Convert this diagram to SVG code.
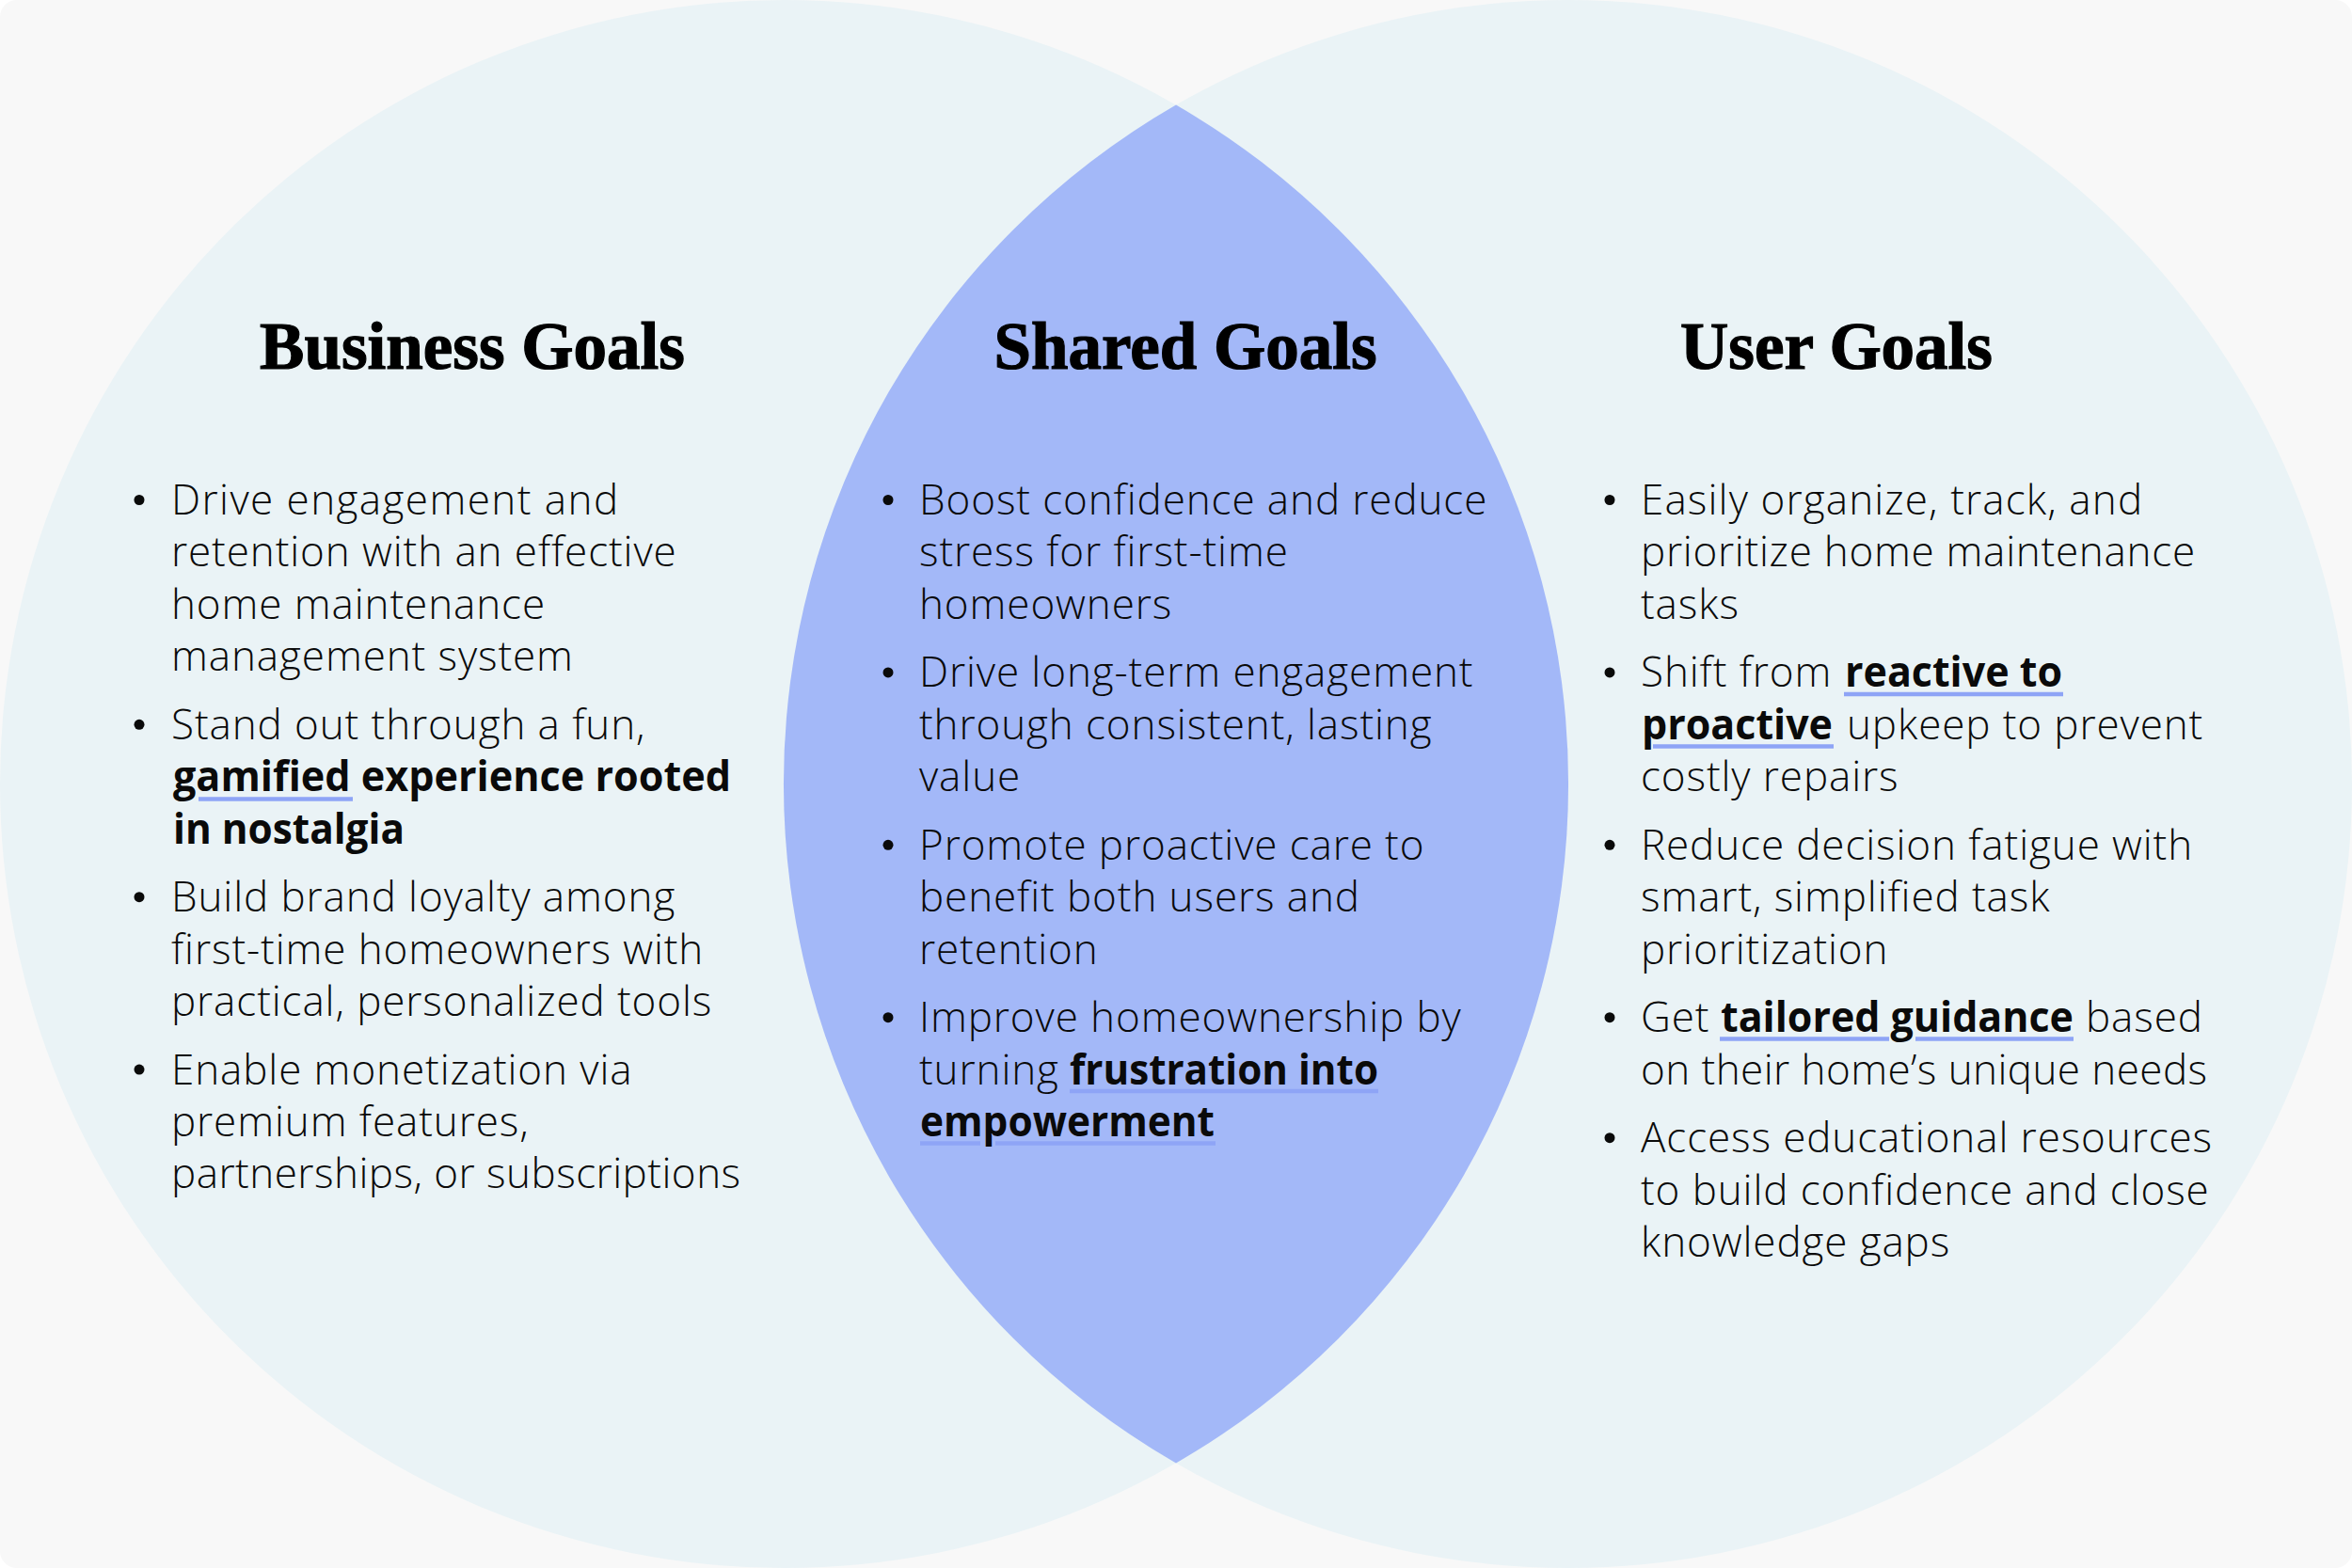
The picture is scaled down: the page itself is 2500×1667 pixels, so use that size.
<svg xmlns="http://www.w3.org/2000/svg" width="2500" height="1667" viewBox="0 0 2500 1667">
<defs>
<style>
.bg{fill:#f8f8f8}
.circ{fill:#eaf3f6}
.lens{fill:#a3b8f8}
.h{font-family:"Liberation Serif",serif;font-weight:700;font-size:71px;fill:#000;stroke:#000;stroke-width:1.2px;text-anchor:middle}
.t{font-family:"Open Sans","Noto Sans",sans-serif;font-weight:300;font-size:44px;letter-spacing:0.9px;fill:#0a0a0a}
.b{font-weight:700;letter-spacing:0}
.ul{stroke:#8ea4f6;stroke-width:4.5;fill:none}
.dot{fill:#0a0a0a}
</style>
</defs>
<rect class="bg" x="0" y="0" width="2500" height="1667" rx="18"/>
<g id="business-circle"><circle class="circ" cx="833.5" cy="833.5" r="833.5"/></g>
<g id="user-circle"><circle class="circ" cx="1666.5" cy="833.5" r="833.5"/></g>
<g id="shared-lens"><path class="lens" d="M1250,111.5 A833.5,833.5 0 0,0 1250,1555.5 A833.5,833.5 0 0,0 1250,111.5 Z"/></g>

<g id="business-goals">
<text class="h" x="502" y="392">Business Goals</text>
<circle class="dot" cx="148" cy="531.5" r="5.5"/>
<text class="t" x="182" y="547" textLength="476">Drive engagement and</text>
<text class="t" x="182" y="602.4">retention with an effective</text>
<text class="t" x="182" y="657.8">home maintenance</text>
<text class="t" x="182" y="713.2">management system</text>
<circle class="dot" cx="148" cy="770.3" r="5.5"/>
<text class="t" x="182" y="785.8">Stand out through a fun,</text>
<text class="t b" x="184" y="841.2" textLength="593" lengthAdjust="spacingAndGlyphs">gamified experience rooted</text>
<text class="t b" x="184" y="896.6" textLength="246" lengthAdjust="spacingAndGlyphs">in nostalgia</text>
<line class="ul" x1="211" y1="849.5" x2="375" y2="849.5"/>
<circle class="dot" cx="148" cy="953.7" r="5.5"/>
<text class="t" x="182" y="969.2">Build brand loyalty among</text>
<text class="t" x="182" y="1024.6">first-time homeowners with</text>
<text class="t" x="182" y="1080">practical, personalized tools</text>
<circle class="dot" cx="148" cy="1137.1" r="5.5"/>
<text class="t" x="182" y="1152.6">Enable monetization via</text>
<text class="t" x="182" y="1208">premium features,</text>
<text class="t" x="182" y="1263.4" textLength="606">partnerships, or subscriptions</text>
</g>

<g id="shared-goals">
<text class="h" x="1260" y="392">Shared Goals</text>
<circle class="dot" cx="944" cy="531.5" r="5.5"/>
<text class="t" x="977" y="547">Boost confidence and reduce</text>
<text class="t" x="977" y="602.4">stress for first-time</text>
<text class="t" x="977" y="657.8">homeowners</text>
<circle class="dot" cx="944" cy="714.9" r="5.5"/>
<text class="t" x="977" y="730.4">Drive long-term engagement</text>
<text class="t" x="977" y="785.8">through consistent, lasting</text>
<text class="t" x="977" y="841.2">value</text>
<circle class="dot" cx="944" cy="898.3" r="5.5"/>
<text class="t" x="977" y="913.8">Promote proactive care to</text>
<text class="t" x="977" y="969.2">benefit both users and</text>
<text class="t" x="977" y="1024.6">retention</text>
<circle class="dot" cx="944" cy="1081.7" r="5.5"/>
<text class="t" x="977" y="1097.2">Improve homeownership by</text>
<text class="t" x="977" y="1152.6">turning<tspan class="b" x="1137" textLength="328" lengthAdjust="spacingAndGlyphs">frustration into</tspan></text>
<text class="t b" x="978" y="1208" textLength="313" lengthAdjust="spacingAndGlyphs">empowerment</text>
<line class="ul" x1="1137" y1="1160" x2="1465" y2="1160"/>
<line class="ul" x1="978" y1="1215.5" x2="1042" y2="1215.5"/>
<line class="ul" x1="1058" y1="1215.5" x2="1292" y2="1215.5"/>
</g>

<g id="user-goals">
<text class="h" x="1952" y="392">User Goals</text>
<circle class="dot" cx="1711" cy="531.5" r="5.5"/>
<text class="t" x="1744" y="547" textLength="534">Easily organize, track, and</text>
<text class="t" x="1744" y="602.4" textLength="590">prioritize home maintenance</text>
<text class="t" x="1744" y="657.8">tasks</text>
<circle class="dot" cx="1711" cy="714.9" r="5.5"/>
<text class="t" x="1744" y="730.4">Shift from<tspan class="b" x="1961" textLength="231" lengthAdjust="spacingAndGlyphs">reactive to</tspan></text>
<text class="t" x="1745" y="785.8"><tspan class="b" textLength="203" lengthAdjust="spacingAndGlyphs">proactive</tspan><tspan x="1963">upkeep to prevent</tspan></text>
<text class="t" x="1744" y="841.2">costly repairs</text>
<line class="ul" x1="1960" y1="738" x2="2193" y2="738"/>
<line class="ul" x1="1757" y1="793.5" x2="1949" y2="793.5"/>
<circle class="dot" cx="1711" cy="898.3" r="5.5"/>
<text class="t" x="1744" y="913.8">Reduce decision fatigue with</text>
<text class="t" x="1744" y="969.2">smart, simplified task</text>
<text class="t" x="1744" y="1024.6">prioritization</text>
<circle class="dot" cx="1711" cy="1081.7" r="5.5"/>
<text class="t" x="1744" y="1097.2">Get<tspan class="b" x="1829" textLength="375" lengthAdjust="spacingAndGlyphs">tailored guidance</tspan><tspan x="2217">based</tspan></text>
<text class="t" x="1744" y="1152.6" textLength="603">on their home’s unique needs</text>
<line class="ul" x1="1828" y1="1104.5" x2="2008" y2="1104.5"/>
<line class="ul" x1="2036" y1="1104.5" x2="2204" y2="1104.5"/>
<circle class="dot" cx="1711" cy="1209.7" r="5.5"/>
<text class="t" x="1744" y="1225.2">Access educational resources</text>
<text class="t" x="1744" y="1280.6">to build confidence and close</text>
<text class="t" x="1744" y="1336">knowledge gaps</text>
</g>
</svg>
